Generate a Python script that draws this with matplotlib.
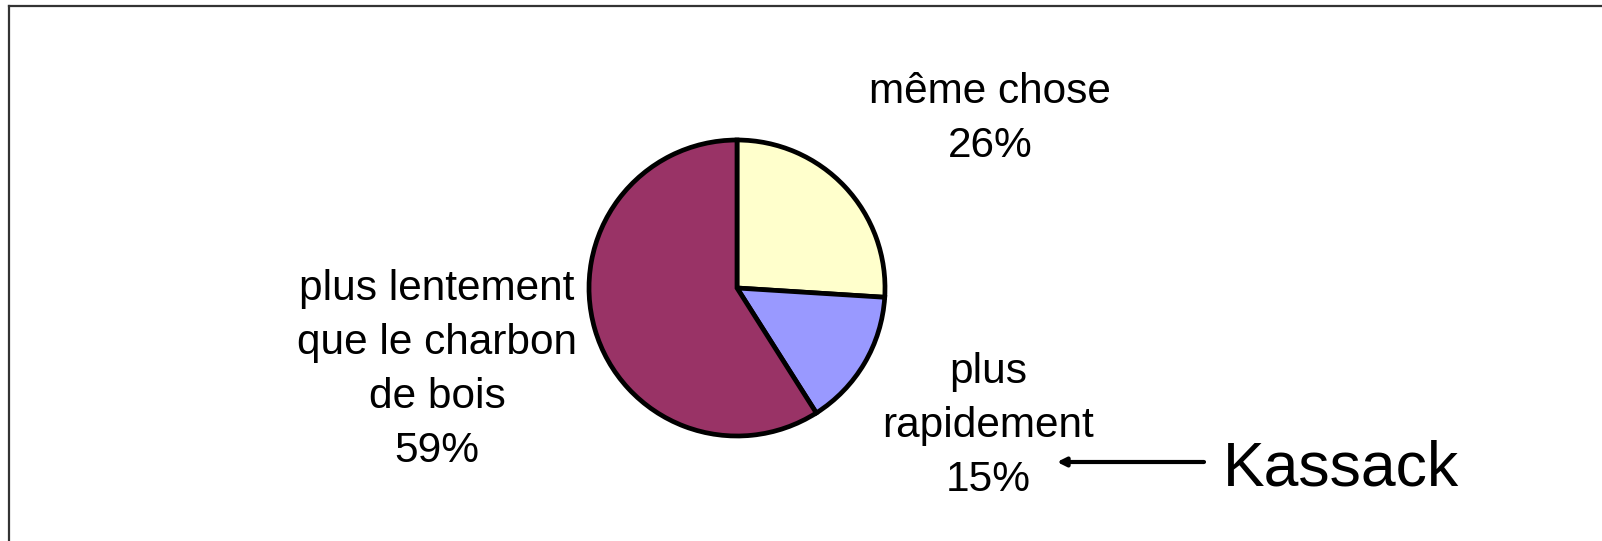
import numpy as np
import matplotlib
matplotlib.use('Agg')
import matplotlib.pyplot as plt
from matplotlib.lines import Line2D

#数据
labels = ['même chose', 'plus\nrapidement', 'plus lentement\nque le charbon\nde bois']
values = [26, 15, 59]
colors = ['#FFFFCC', '#9999FF', '#993366']

plt.rcParams['font.family'] = ['Liberation Sans', 'DejaVu Sans']

W, H = 1602, 541
fig = plt.figure(figsize=(W / 100, H / 100), dpi=100)
ax = fig.add_axes([0, 0, 1, 1])

# 饼图, 坐标按像素 (y 从上往下换算)
def py(y):
    return H - y

ax.pie(values, colors=colors, center=(737, py(288)), radius=148,
       startangle=90, counterclock=False,
       wedgeprops=dict(edgecolor='black', linewidth=3.4))

# pie 会改坐标范围, 之后再设
ax.set_xlim(0, W)
ax.set_ylim(0, H)
ax.set_aspect('equal')
ax.axis('off')

# 标签
pos = [(990, 119), (988, 426), (437, 370)]
for lab, v, (x, y) in zip(labels, values, pos):
    ax.text(x, py(y), '{}\n{}%'.format(lab, v), ha='center', va='center',
            fontsize=30.5, linespacing=1.45)

# Kassack 和箭头
ax.text(1223, py(485), 'Kassack', fontsize=45, ha='left', va='baseline')
ax.annotate('', xy=(1057, py(462)), xytext=(1204, py(462)),
            arrowprops=dict(arrowstyle='-|>,head_length=0.5,head_width=0.25',
                            color='black', lw=3, shrinkA=0, shrinkB=0))

# 外框
fig.add_artist(Line2D([8.5 / W, 8.5 / W], [0, 1 - 6 / H], color='#333333', lw=1.6,
                      transform=fig.transFigure))
fig.add_artist(Line2D([8.5 / W, 1], [1 - 6 / H, 1 - 6 / H], color='#333333', lw=1.6,
                      transform=fig.transFigure))

fig.savefig('out.png', dpi=100)
